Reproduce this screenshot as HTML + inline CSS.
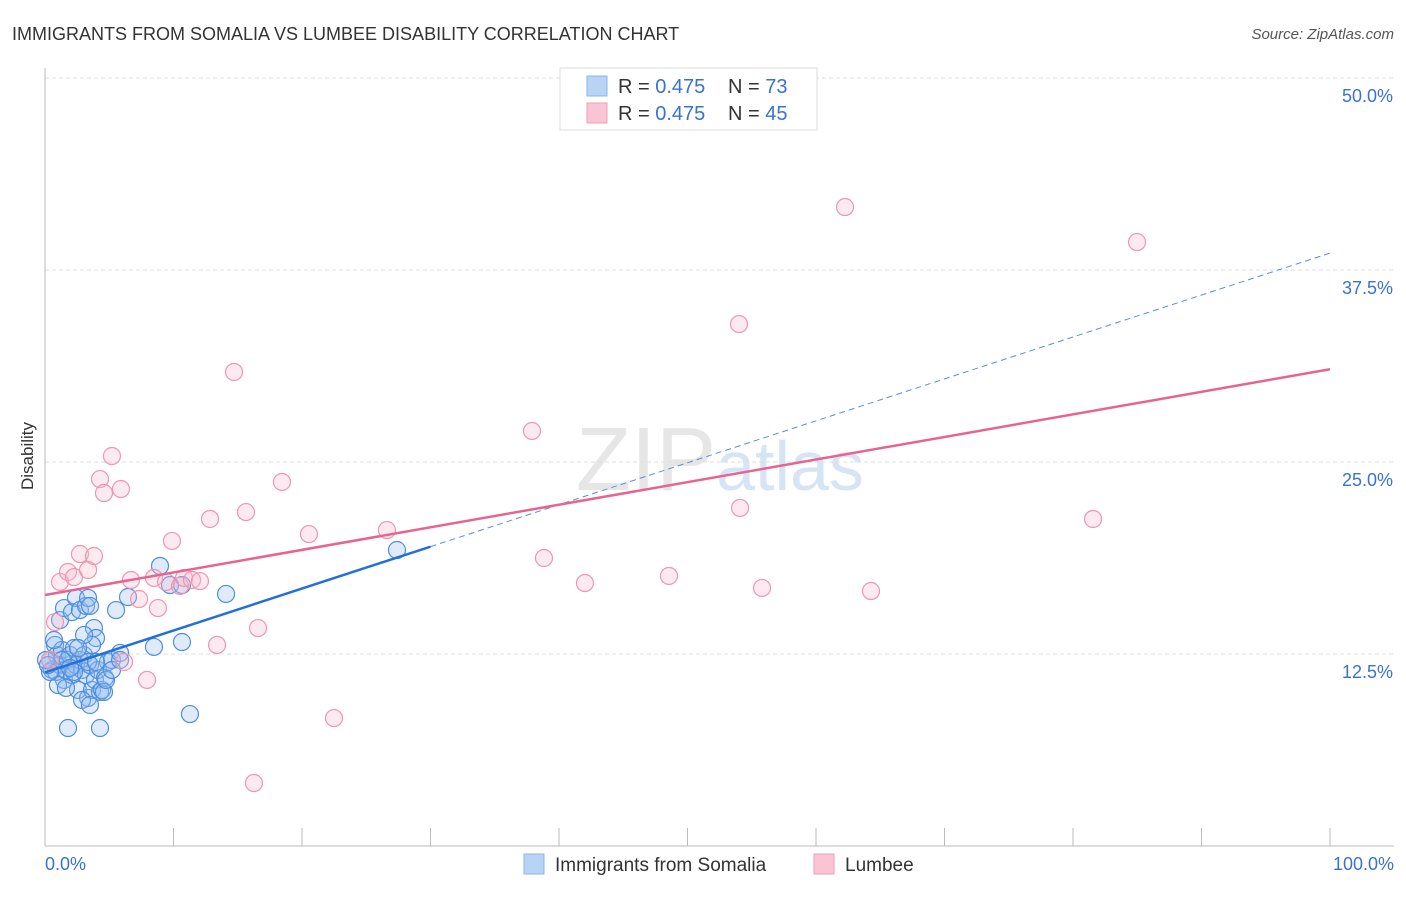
<!DOCTYPE html>
<html><head><meta charset="utf-8"><style>
body{margin:0;background:#fff;font-family:"Liberation Sans",sans-serif;}
svg text{font-family:"Liberation Sans",sans-serif;}
</style></head><body>
<svg id="chart" width="1406" height="892" viewBox="0 0 1406 892" xmlns="http://www.w3.org/2000/svg">
<text x="12" y="40" font-size="18" fill="#333">IMMIGRANTS FROM SOMALIA VS LUMBEE DISABILITY CORRELATION CHART</text>
<text x="1394" y="39" font-size="15" fill="#555" text-anchor="end" font-style="italic">Source: ZipAtlas.com</text>
<text x="720" y="490" font-size="90" fill="#e6e6e6" text-anchor="middle" font-family="Liberation Serif">ZIP<tspan fill="#d6e4f5" font-family="Liberation Sans" font-size="70">atlas</tspan></text>
<text transform="translate(33,456) rotate(-90)" font-size="17" fill="#333" text-anchor="middle">Disability</text>
<g id="grid"></g>
<g id="marks"></g>
<g>
<rect x="560" y="68" width="257" height="62" fill="#fff" stroke="#ddd"/>
<rect x="587" y="76" width="20" height="20" fill="#b9d3f5" stroke="#8ab3ea"/>
<rect x="587" y="103" width="20" height="20" fill="#f9c4d3" stroke="#ee9fb6"/>
<text x="618" y="93" font-size="20" fill="#333">R = <tspan fill="#3a72d0">0.475</tspan></text>
<text x="728" y="93" font-size="20" fill="#333">N = <tspan fill="#3a72d0">73</tspan></text>
<text x="618" y="120" font-size="20" fill="#333">R = <tspan fill="#3a72d0">0.475</tspan></text>
<text x="728" y="120" font-size="20" fill="#333">N = <tspan fill="#3a72d0">45</tspan></text>
</g>
<g>
<rect x="524" y="854" width="20" height="20" fill="#b9d3f5" stroke="#8ab3ea"/>
<text x="555" y="871" font-size="19" fill="#333">Immigrants from Somalia</text>
<rect x="814" y="854" width="20" height="20" fill="#f9c4d3" stroke="#ee9fb6"/>
<text x="845" y="871" font-size="19" fill="#333">Lumbee</text>
</g>
</svg>
<script>
const yTicks=[12.5,25,37.5,50];
const yTickLabels=["12.5%","25.0%","37.5%","50.0%"];
const xTickLabels=["0.0%","100.0%"];
const blueX=[0.39,0.54,0.78,0.93,1.17,1.32,1.48,1.63,1.79,1.95,2.10,2.26,2.41,2.57,2.72,2.88,3.04,3.19,3.35,3.50,3.66,3.89,4.12,4.28,4.44,4.67,4.90,5.21,0.86,0.70,1.17,1.48,2.10,2.41,2.72,3.19,3.35,3.50,3.81,3.97,3.66,3.04,1.79,4.28,5.53,5.84,6.46,8.48,8.95,9.73,10.66,10.66,11.28,14.09,27.39,1.01,1.63,2.26,0.39,4.59,1.32,1.95,2.57,3.35,3.97,4.75,5.21,2.88,3.50,0.08,0.23,5.84];
const blueY=[12.11,11.46,13.09,12.43,11.78,12.76,10.81,11.46,12.11,12.43,11.13,12.89,11.78,10.16,12.11,11.46,12.43,11.13,9.64,11.78,10.16,10.81,11.46,10.03,10.16,10.94,11.98,12.11,11.33,13.41,14.71,15.49,15.23,16.15,15.36,15.63,16.15,15.63,14.19,13.54,13.09,13.74,7.68,7.68,15.36,12.57,16.21,12.96,18.23,16.99,13.28,16.99,8.59,16.41,19.27,10.48,10.29,11.33,11.33,10.03,12.11,11.59,12.89,11.98,11.98,10.81,11.46,9.51,9.18,12.11,11.78,12.11];
const pinkX=[0.78,1.17,1.79,2.26,2.72,3.35,3.81,4.28,4.59,5.21,5.91,6.15,6.69,7.32,7.94,8.48,8.79,9.42,9.88,10.51,10.82,11.44,12.06,12.84,13.39,14.71,15.64,16.26,16.58,18.44,20.54,22.49,26.61,37.90,38.83,42.02,48.56,54.01,54.09,55.80,62.26,64.28,81.56,84.98,0.39];
const pinkY=[14.58,17.19,17.84,17.51,19.01,17.97,18.88,23.89,22.98,25.39,23.24,11.98,17.32,16.08,10.81,17.45,15.49,17.19,19.86,16.93,17.45,17.32,17.25,21.29,13.09,30.86,21.74,4.10,14.19,23.70,20.31,8.33,20.57,27.02,18.75,17.12,17.58,33.98,22.01,16.80,41.60,16.60,21.29,39.32,12.11];
const blueLine=[11.3,0.273]; // intercept, slope
const pinkLine=[16.34,0.147];
const NS="http://www.w3.org/2000/svg";
const X=v=>45+v*12.85, Y=v=>846-v*15.36;
function mk(t,a,p){const e=document.createElementNS(NS,t);for(const k in a)e.setAttribute(k,a[k]);p.appendChild(e);return e;}
const grid=document.getElementById('grid'),marks=document.getElementById('marks');
yTicks.forEach((t,i)=>{
 const l=mk('line',{x1:45,x2:1394,y1:Y(t),y2:Y(t),stroke:'#ddd','stroke-dasharray':'4,3'},grid);
 
 
 const tx=mk('text',{x:1393,y:Y(t)+24,'font-size':18,fill:'#3a72d0','text-anchor':'end'},grid);
 tx.textContent=yTickLabels[i];
 
 
});
mk('line',{x1:45,x2:45,y1:68,y2:846,stroke:'#bbb'},grid);
mk('line',{x1:45,x2:1394,y1:846,y2:846,stroke:'#bbb'},grid);
for(let i=0;i<=10;i++){mk('line',{x1:X(i*10),x2:X(i*10),y1:828,y2:846,stroke:'#bbb'},grid);}
[[0,'start',45],[1,'end',1394]].forEach(([i,a,x])=>{const t=mk('text',{x:x,y:870,'font-size':18,fill:'#3a72d0','text-anchor':a},grid);t.textContent=xTickLabels[i];
 
 });
blueX.forEach((x,i)=>{const c=mk('circle',{cx:X(x),cy:Y(blueY[i]),r:8.5,fill:'rgba(150,190,240,0.3)',stroke:'#4f8ee0','stroke-width':1.2},marks);
 
 });
pinkX.forEach((x,i)=>{const c=mk('circle',{cx:X(x),cy:Y(pinkY[i]),r:8.5,fill:'rgba(248,185,205,0.3)',stroke:'#ef95b0','stroke-width':1.2},marks);
 
 });
const bl=mk('line',{x1:X(0),y1:Y(blueLine[0]),x2:X(30),y2:Y(blueLine[0]+30*blueLine[1]),stroke:'#2470d8','stroke-width':2.5},marks);


const bd=mk('line',{x1:X(30),y1:Y(blueLine[0]+30*blueLine[1]),x2:X(100),y2:Y(blueLine[0]+100*blueLine[1]),stroke:'#5b8fd8','stroke-width':1,'stroke-dasharray':'6,4'},marks);


const pl=mk('line',{x1:X(0),y1:Y(pinkLine[0]),x2:X(100),y2:Y(pinkLine[0]+100*pinkLine[1]),stroke:'#e8638e','stroke-width':2.5},marks);


</script>
</body></html>
